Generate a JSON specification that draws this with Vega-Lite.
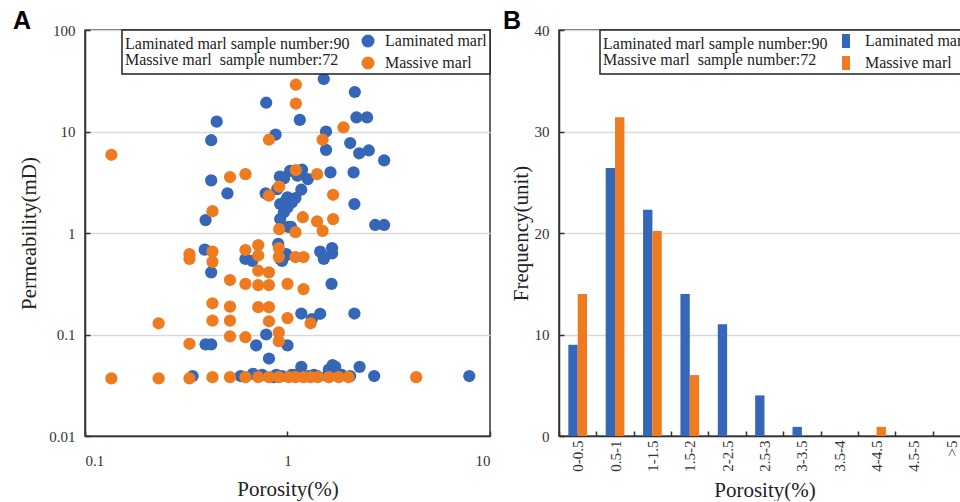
{
  "$schema": "https://vega.github.io/schema/vega-lite/v6.json",
  "padding": {"left": 12, "top": 8, "right": 0, "bottom": 0},
  "background": "white",
  "spacing": 69,
  "bounds": "flush",
  "datasets": {
    "pts": [
      {"type": "Laminated marl", "porosity": 0.785, "permeability": 19.2},
      {"type": "Laminated marl", "porosity": 0.447, "permeability": 12.5},
      {"type": "Laminated marl", "porosity": 0.873, "permeability": 9.3},
      {"type": "Laminated marl", "porosity": 0.42, "permeability": 8.2},
      {"type": "Laminated marl", "porosity": 0.42, "permeability": 3.3},
      {"type": "Laminated marl", "porosity": 0.505, "permeability": 2.46},
      {"type": "Laminated marl", "porosity": 0.917, "permeability": 3.59},
      {"type": "Laminated marl", "porosity": 0.96, "permeability": 3.45},
      {"type": "Laminated marl", "porosity": 0.78, "permeability": 2.46},
      {"type": "Laminated marl", "porosity": 0.89, "permeability": 2.71},
      {"type": "Laminated marl", "porosity": 0.98, "permeability": 2.08},
      {"type": "Laminated marl", "porosity": 0.92, "permeability": 1.93},
      {"type": "Laminated marl", "porosity": 1.0, "permeability": 1.79},
      {"type": "Laminated marl", "porosity": 0.394, "permeability": 1.34},
      {"type": "Laminated marl", "porosity": 0.92, "permeability": 1.37},
      {"type": "Laminated marl", "porosity": 1.03, "permeability": 4.1},
      {"type": "Laminated marl", "porosity": 1.01, "permeability": 1.15},
      {"type": "Laminated marl", "porosity": 1.51, "permeability": 32.9},
      {"type": "Laminated marl", "porosity": 2.15, "permeability": 24.5},
      {"type": "Laminated marl", "porosity": 1.15, "permeability": 13.0},
      {"type": "Laminated marl", "porosity": 2.19, "permeability": 13.8},
      {"type": "Laminated marl", "porosity": 2.47, "permeability": 13.8},
      {"type": "Laminated marl", "porosity": 1.55, "permeability": 10.0},
      {"type": "Laminated marl", "porosity": 1.55, "permeability": 6.6},
      {"type": "Laminated marl", "porosity": 2.04, "permeability": 7.7},
      {"type": "Laminated marl", "porosity": 2.26, "permeability": 6.1},
      {"type": "Laminated marl", "porosity": 2.52, "permeability": 6.5},
      {"type": "Laminated marl", "porosity": 3.0, "permeability": 5.2},
      {"type": "Laminated marl", "porosity": 0.94, "permeability": 3.54},
      {"type": "Laminated marl", "porosity": 1.18, "permeability": 4.2},
      {"type": "Laminated marl", "porosity": 1.12, "permeability": 3.67},
      {"type": "Laminated marl", "porosity": 1.26, "permeability": 3.4},
      {"type": "Laminated marl", "porosity": 1.63, "permeability": 3.96},
      {"type": "Laminated marl", "porosity": 2.12, "permeability": 3.96},
      {"type": "Laminated marl", "porosity": 1.17, "permeability": 2.67},
      {"type": "Laminated marl", "porosity": 1.0, "permeability": 2.25},
      {"type": "Laminated marl", "porosity": 1.095, "permeability": 2.21},
      {"type": "Laminated marl", "porosity": 2.14, "permeability": 1.93},
      {"type": "Laminated marl", "porosity": 1.04, "permeability": 1.15},
      {"type": "Laminated marl", "porosity": 2.71, "permeability": 1.2},
      {"type": "Laminated marl", "porosity": 3.0, "permeability": 1.2},
      {"type": "Laminated marl", "porosity": 0.39, "permeability": 0.685},
      {"type": "Laminated marl", "porosity": 0.42, "permeability": 0.41},
      {"type": "Laminated marl", "porosity": 0.62, "permeability": 0.555},
      {"type": "Laminated marl", "porosity": 0.67, "permeability": 0.53},
      {"type": "Laminated marl", "porosity": 0.9, "permeability": 0.78},
      {"type": "Laminated marl", "porosity": 0.92, "permeability": 0.555},
      {"type": "Laminated marl", "porosity": 0.985, "permeability": 0.62},
      {"type": "Laminated marl", "porosity": 0.785, "permeability": 0.1},
      {"type": "Laminated marl", "porosity": 0.394, "permeability": 0.08},
      {"type": "Laminated marl", "porosity": 0.42, "permeability": 0.08},
      {"type": "Laminated marl", "porosity": 0.7, "permeability": 0.078},
      {"type": "Laminated marl", "porosity": 0.81, "permeability": 0.058},
      {"type": "Laminated marl", "porosity": 1.0, "permeability": 0.078},
      {"type": "Laminated marl", "porosity": 0.34, "permeability": 0.039},
      {"type": "Laminated marl", "porosity": 0.587, "permeability": 0.039},
      {"type": "Laminated marl", "porosity": 0.675, "permeability": 0.041},
      {"type": "Laminated marl", "porosity": 0.853, "permeability": 0.038},
      {"type": "Laminated marl", "porosity": 0.94, "permeability": 0.039},
      {"type": "Laminated marl", "porosity": 0.98, "permeability": 0.6},
      {"type": "Laminated marl", "porosity": 0.94, "permeability": 0.53},
      {"type": "Laminated marl", "porosity": 1.45, "permeability": 0.655},
      {"type": "Laminated marl", "porosity": 1.66, "permeability": 0.71},
      {"type": "Laminated marl", "porosity": 1.66, "permeability": 0.63},
      {"type": "Laminated marl", "porosity": 1.51, "permeability": 0.555},
      {"type": "Laminated marl", "porosity": 1.65, "permeability": 0.315},
      {"type": "Laminated marl", "porosity": 1.17, "permeability": 0.161},
      {"type": "Laminated marl", "porosity": 1.32, "permeability": 0.142},
      {"type": "Laminated marl", "porosity": 1.45, "permeability": 0.16},
      {"type": "Laminated marl", "porosity": 2.14, "permeability": 0.161},
      {"type": "Laminated marl", "porosity": 1.17, "permeability": 0.048},
      {"type": "Laminated marl", "porosity": 1.67, "permeability": 0.05},
      {"type": "Laminated marl", "porosity": 1.72, "permeability": 0.048},
      {"type": "Laminated marl", "porosity": 2.27, "permeability": 0.048},
      {"type": "Laminated marl", "porosity": 2.68, "permeability": 0.039},
      {"type": "Laminated marl", "porosity": 7.9, "permeability": 0.039},
      {"type": "Laminated marl", "porosity": 1.16, "permeability": 0.039},
      {"type": "Laminated marl", "porosity": 1.27, "permeability": 0.039},
      {"type": "Laminated marl", "porosity": 1.4, "permeability": 0.039},
      {"type": "Laminated marl", "porosity": 1.57, "permeability": 0.039},
      {"type": "Laminated marl", "porosity": 2.04, "permeability": 0.039},
      {"type": "Laminated marl", "porosity": 1.05, "permeability": 2.0},
      {"type": "Laminated marl", "porosity": 0.96, "permeability": 1.6},
      {"type": "Laminated marl", "porosity": 1.05, "permeability": 0.04},
      {"type": "Laminated marl", "porosity": 1.35, "permeability": 0.04},
      {"type": "Laminated marl", "porosity": 1.85, "permeability": 0.04},
      {"type": "Laminated marl", "porosity": 0.75, "permeability": 0.04},
      {"type": "Laminated marl", "porosity": 1.1, "permeability": 0.04},
      {"type": "Laminated marl", "porosity": 1.6, "permeability": 0.045},
      {"type": "Laminated marl", "porosity": 0.88, "permeability": 0.04},
      {"type": "Massive marl", "porosity": 0.81, "permeability": 8.3},
      {"type": "Massive marl", "porosity": 0.135, "permeability": 5.9},
      {"type": "Massive marl", "porosity": 0.52, "permeability": 3.56},
      {"type": "Massive marl", "porosity": 0.62, "permeability": 3.8},
      {"type": "Massive marl", "porosity": 0.91, "permeability": 2.86},
      {"type": "Massive marl", "porosity": 0.81, "permeability": 2.33},
      {"type": "Massive marl", "porosity": 0.426, "permeability": 1.64},
      {"type": "Massive marl", "porosity": 0.91, "permeability": 1.09},
      {"type": "Massive marl", "porosity": 1.1, "permeability": 28.9},
      {"type": "Massive marl", "porosity": 1.1, "permeability": 18.8},
      {"type": "Massive marl", "porosity": 1.89, "permeability": 11.0},
      {"type": "Massive marl", "porosity": 1.49, "permeability": 8.3},
      {"type": "Massive marl", "porosity": 1.1, "permeability": 4.17},
      {"type": "Massive marl", "porosity": 1.4, "permeability": 3.8},
      {"type": "Massive marl", "porosity": 1.68, "permeability": 2.38},
      {"type": "Massive marl", "porosity": 1.19, "permeability": 1.43},
      {"type": "Massive marl", "porosity": 1.4, "permeability": 1.3},
      {"type": "Massive marl", "porosity": 1.68, "permeability": 1.37},
      {"type": "Massive marl", "porosity": 1.095, "permeability": 1.02},
      {"type": "Massive marl", "porosity": 1.49, "permeability": 1.05},
      {"type": "Massive marl", "porosity": 0.328, "permeability": 0.62},
      {"type": "Massive marl", "porosity": 0.328, "permeability": 0.555},
      {"type": "Massive marl", "porosity": 0.426, "permeability": 0.655},
      {"type": "Massive marl", "porosity": 0.426, "permeability": 0.52},
      {"type": "Massive marl", "porosity": 0.62, "permeability": 0.68},
      {"type": "Massive marl", "porosity": 0.717, "permeability": 0.76},
      {"type": "Massive marl", "porosity": 0.717, "permeability": 0.6},
      {"type": "Massive marl", "porosity": 0.906, "permeability": 0.71},
      {"type": "Massive marl", "porosity": 0.906, "permeability": 0.58},
      {"type": "Massive marl", "porosity": 0.717, "permeability": 0.425},
      {"type": "Massive marl", "porosity": 0.81, "permeability": 0.41},
      {"type": "Massive marl", "porosity": 0.52, "permeability": 0.344},
      {"type": "Massive marl", "porosity": 0.62, "permeability": 0.315},
      {"type": "Massive marl", "porosity": 0.717, "permeability": 0.307},
      {"type": "Massive marl", "porosity": 0.81, "permeability": 0.307},
      {"type": "Massive marl", "porosity": 1.0, "permeability": 0.315},
      {"type": "Massive marl", "porosity": 0.426, "permeability": 0.203},
      {"type": "Massive marl", "porosity": 0.52, "permeability": 0.188},
      {"type": "Massive marl", "porosity": 0.717, "permeability": 0.186},
      {"type": "Massive marl", "porosity": 0.81, "permeability": 0.186},
      {"type": "Massive marl", "porosity": 0.231, "permeability": 0.129},
      {"type": "Massive marl", "porosity": 0.426, "permeability": 0.137},
      {"type": "Massive marl", "porosity": 0.52, "permeability": 0.137},
      {"type": "Massive marl", "porosity": 0.81, "permeability": 0.135},
      {"type": "Massive marl", "porosity": 1.0, "permeability": 0.145},
      {"type": "Massive marl", "porosity": 0.906, "permeability": 0.105},
      {"type": "Massive marl", "porosity": 0.906, "permeability": 0.086},
      {"type": "Massive marl", "porosity": 0.52, "permeability": 0.096},
      {"type": "Massive marl", "porosity": 0.62, "permeability": 0.094},
      {"type": "Massive marl", "porosity": 0.328, "permeability": 0.081},
      {"type": "Massive marl", "porosity": 1.095, "permeability": 0.58},
      {"type": "Massive marl", "porosity": 1.2, "permeability": 0.58},
      {"type": "Massive marl", "porosity": 1.2, "permeability": 0.28},
      {"type": "Massive marl", "porosity": 1.3, "permeability": 0.129},
      {"type": "Massive marl", "porosity": 0.135, "permeability": 0.037},
      {"type": "Massive marl", "porosity": 0.231, "permeability": 0.037},
      {"type": "Massive marl", "porosity": 0.328, "permeability": 0.037},
      {"type": "Massive marl", "porosity": 0.426, "permeability": 0.038},
      {"type": "Massive marl", "porosity": 0.52, "permeability": 0.038},
      {"type": "Massive marl", "porosity": 0.62, "permeability": 0.038},
      {"type": "Massive marl", "porosity": 0.717, "permeability": 0.038},
      {"type": "Massive marl", "porosity": 0.81, "permeability": 0.038},
      {"type": "Massive marl", "porosity": 0.906, "permeability": 0.038},
      {"type": "Massive marl", "porosity": 1.015, "permeability": 0.038},
      {"type": "Massive marl", "porosity": 1.095, "permeability": 0.038},
      {"type": "Massive marl", "porosity": 1.2, "permeability": 0.038},
      {"type": "Massive marl", "porosity": 1.3, "permeability": 0.038},
      {"type": "Massive marl", "porosity": 1.41, "permeability": 0.038},
      {"type": "Massive marl", "porosity": 1.6, "permeability": 0.038},
      {"type": "Massive marl", "porosity": 1.79, "permeability": 0.038},
      {"type": "Massive marl", "porosity": 2.0, "permeability": 0.038},
      {"type": "Massive marl", "porosity": 4.32, "permeability": 0.038}
    ],
    "bars": [
      {"bin": "0-0.5", "type": "Laminated marl", "freq": 9},
      {"bin": "0-0.5", "type": "Massive marl", "freq": 14},
      {"bin": "0.5-1", "type": "Laminated marl", "freq": 26.4},
      {"bin": "0.5-1", "type": "Massive marl", "freq": 31.4},
      {"bin": "1-1.5", "type": "Laminated marl", "freq": 22.3},
      {"bin": "1-1.5", "type": "Massive marl", "freq": 20.2},
      {"bin": "1.5-2", "type": "Laminated marl", "freq": 14},
      {"bin": "1.5-2", "type": "Massive marl", "freq": 6},
      {"bin": "2-2.5", "type": "Laminated marl", "freq": 11},
      {"bin": "2-2.5", "type": "Massive marl", "freq": 0},
      {"bin": "2.5-3", "type": "Laminated marl", "freq": 4},
      {"bin": "2.5-3", "type": "Massive marl", "freq": 0},
      {"bin": "3-3.5", "type": "Laminated marl", "freq": 0.9},
      {"bin": "3-3.5", "type": "Massive marl", "freq": 0},
      {"bin": "3.5-4", "type": "Laminated marl", "freq": 0},
      {"bin": "3.5-4", "type": "Massive marl", "freq": 0},
      {"bin": "4-4.5", "type": "Laminated marl", "freq": 0},
      {"bin": "4-4.5", "type": "Massive marl", "freq": 0.9},
      {"bin": "4.5-5", "type": "Laminated marl", "freq": 0},
      {"bin": "4.5-5", "type": "Massive marl", "freq": 0},
      {"bin": ">5", "type": "Laminated marl", "freq": 0},
      {"bin": ">5", "type": "Massive marl", "freq": 0}
    ]
  },
  "hconcat": [
    {
      "width": 405,
      "height": 406,
      "data": {"name": "pts"},
      "title": {"text": "A", "anchor": "start", "frame": "group", "dx": -72, "offset": -11, "fontSize": 25, "font": "Liberation Sans", "fontWeight": "bold", "color": "#000"},
      "mark": {"type": "circle", "size": 150, "opacity": 1},
      "encoding": {
        "x": {"field": "porosity", "type": "quantitative",
          "scale": {"type": "log", "domain": [0.1, 10], "nice": false},
          "axis": {"values": [0.1, 1, 10], "format": "~g", "grid": false, "title": "Porosity(%)", "labelPadding": 22, "titlePadding": 10}},
        "y": {"field": "permeability", "type": "quantitative",
          "scale": {"type": "log", "domain": [0.01, 100], "nice": false},
          "axis": {"values": [0.01, 0.1, 1, 10, 100], "format": "~g", "grid": true, "title": "Permeability(mD)", "labelPadding": 15, "titlePadding": 9}},
        "color": {"field": "type", "type": "nominal",
          "scale": {"domain": ["Laminated marl", "Massive marl"], "range": ["#3566B8", "#EF7B20"]},
          "legend": {"orient": "top-right", "offset": 0,
            "title": ["Laminated marl sample number:90", "Massive marl\u00a0 sample number:72"],
            "titleOrient": "left", "titleAnchor": "middle", "titlePadding": 10,
            "symbolType": "circle", "symbolSize": 169, "symbolOpacity": 1, "symbolStrokeWidth": 0,
            "labelOffset": 9, "rowPadding": 6, "padding": 3}}
      }
    },
    {
      "width": 411,
      "height": 406,
      "data": {"name": "bars"},
      "title": {"text": "B", "anchor": "start", "frame": "group", "dx": -56, "offset": -11, "fontSize": 25, "font": "Liberation Sans", "fontWeight": "bold", "color": "#000"},
      "mark": {"type": "bar"},
      "encoding": {
        "x": {"field": "bin", "type": "nominal", "sort": null,
          "scale": {"paddingInner": 0, "paddingOuter": 0},
          "axis": {"labelAngle": 270, "tickBand": "extent", "title": "Porosity(%)", "labelPadding": 9, "titlePadding": 8}},
        "xOffset": {"field": "type", "type": "nominal", "sort": ["Laminated marl", "Massive marl"],
          "scale": {"paddingInner": 0, "paddingOuter": 1.15}},
        "y": {"field": "freq", "type": "quantitative",
          "scale": {"domain": [0, 40], "nice": false},
          "axis": {"values": [0, 10, 20, 30, 40], "grid": true, "title": "Frequency(unit)", "labelPadding": 15, "titlePadding": 3}},
        "color": {"field": "type", "type": "nominal",
          "scale": {"domain": ["Laminated marl", "Massive marl"], "range": ["#3566B8", "#EF7B20"]},
          "legend": {"orient": "top-right", "offset": 0,
            "title": ["Laminated marl sample number:90", "Massive marl\u00a0 sample number:72"],
            "titleOrient": "left", "titleAnchor": "middle", "titlePadding": 10,
            "symbolType": "M-0.57,-1H0.57V1H-0.57Z", "symbolSize": 196, "symbolOpacity": 1, "symbolStrokeWidth": 0,
            "labelOffset": 11, "rowPadding": 6, "padding": 3}}
      }
    }
  ],
  "resolve": {"scale": {"color": "independent"}, "legend": {"color": "independent"}},
  "config": {
    "view": {"stroke": "#333", "strokeWidth": 1.5},
    "axis": {
      "domainColor": "#333", "domainWidth": 1.5,
      "tickColor": "#333", "tickWidth": 1.5, "tickSize": -5,
      "labelFont": "Liberation Serif", "labelFontSize": 15, "labelColor": "#333",
      "titleFont": "Liberation Serif", "titleFontSize": 21, "titleFontWeight": "normal", "titleColor": "#222",
      "gridColor": "#d9d9d9", "gridWidth": 1.5
    },
    "legend": {
      "strokeColor": "#222", "fillColor": "white", "strokeWidth": 1.5,
      "titleFont": "Liberation Serif", "titleFontSize": 16, "titleFontWeight": "normal", "titleColor": "#222", "titleLineHeight": 16, "titleLimit": 400,
      "labelFont": "Liberation Serif", "labelFontSize": 16, "labelColor": "#222", "labelLimit": 300
    }
  }
}
